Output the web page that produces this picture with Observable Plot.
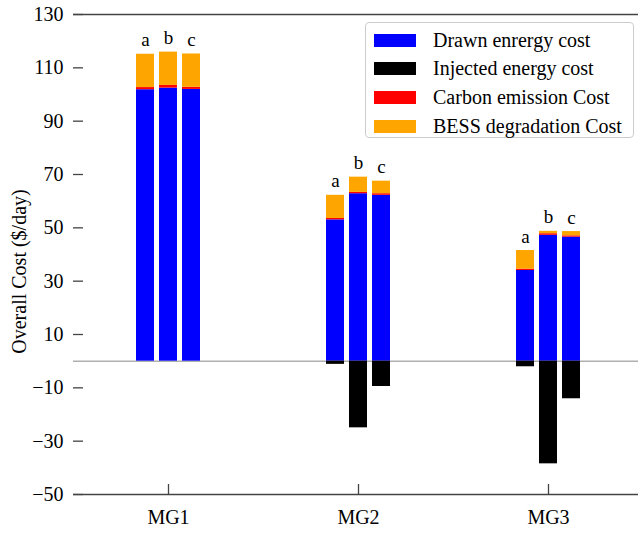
<!DOCTYPE html>
<html>
<head>
<meta charset="utf-8">
<script src="https://cdn.jsdelivr.net/npm/d3@7"></script>
<script src="https://cdn.jsdelivr.net/npm/@observablehq/plot@0.6"></script>
<style>
  html, body { margin: 0; padding: 0; background: white; overflow: hidden; }
  #wrap { position: relative; width: 638px; height: 534px; font-family: "Liberation Serif", "Times New Roman", serif; }
  #wrap svg [aria-label="y-axis tick label"], #wrap svg [aria-label="y-axis tick label"] text { font-size: 20px !important; font-family: "Liberation Serif", serif !important; }
  #wrap svg [aria-label="fx-axis tick label"], #wrap svg [aria-label="fx-axis tick label"] text { font-size: 20px !important; font-family: "Liberation Serif", serif !important; }
  #legend { position: absolute; left: 365px; top: 22px; width: 269px; height: 116px; border: 1.3px solid #ccc; border-radius: 4px; background: rgba(255,255,255,0.9); box-sizing: border-box; }
  .row { position: absolute; left: 0; height: 20px; display: flex; align-items: center; font-size: 20px; color: #000; white-space: nowrap; }
  .sw { width: 42px; height: 13px; margin-left: 8px; margin-right: 17px; }
</style>
</head>
<body>
<div id="wrap"></div>
<script>
const groups = ["MG1", "MG2", "MG3"];
const scenarios = ["a", "b", "c"];
const series = ["Drawn enrergy cost", "Injected energy cost", "Carbon emission Cost", "BESS degradation Cost"];
const colors = ["#0000ff", "#000000", "#ff0000", "#ffa500"];
// values ordered MG1 a,b,c, MG2 a,b,c, MG3 a,b,c
const drawn    = [101.8, 102.4, 101.9, 53.0, 62.8, 62.2, 34.0, 47.2, 46.5];
const injected = [0, 0, 0, -1.2, -25.0, -9.5, -2.1, -38.5, -14.1];
const carbon   = [0.8, 1.0, 0.8, 0.5, 0.5, 0.6, 0.5, 0.6, 0.5];
const bess     = [12.5, 12.5, 12.5, 8.7, 5.7, 4.7, 7.0, 0.9, 1.6];
const yTicks = [-50, -30, -10, 10, 30, 50, 70, 90, 110, 130];
const yLabel = "Overall Cost ($/day)";

const seriesValues = [drawn, injected, carbon, bess];
const rows = [];
const totals = [];
groups.forEach((g, gi) => {
  scenarios.forEach((s, si) => {
    const i = gi * scenarios.length + si;
    let pos = 0;
    series.forEach((name, k) => {
      const v = seriesValues[k][i];
      rows.push({group: g, scenario: s, series: name, value: v});
      if (v > 0) pos += v;
    });
    totals.push({group: g, scenario: s, total: pos});
  });
});

const fmt = d => d < 0 ? "\u2212" + Math.abs(d) : String(d);

const chart = Plot.plot({
  width: 638,
  height: 534,
  marginLeft: 73,
  marginRight: -5,
  marginTop: 14,
  marginBottom: 40,
  style: {fontFamily: "Liberation Serif, Times New Roman, serif", fontSize: "20px", color: "#000", background: "white", overflow: "visible"},
  fx: {domain: groups, padding: 0, label: null},
  x: {domain: scenarios, paddingInner: 0.2, paddingOuter: 2.61, axis: null},
  y: {domain: [-50, 130]},
  color: {domain: series, range: colors},
  marks: [
    Plot.ruleY([0], {stroke: "#888", strokeWidth: 1}),
    Plot.barY(rows, {fx: "group", x: "scenario", y: "value", fill: "series"}),
    Plot.text(totals, {fx: "group", x: "scenario", y: "total", text: "scenario", dy: -8, lineAnchor: "bottom", fontSize: 19}),
    Plot.ruleY([yTicks[0], yTicks[yTicks.length - 1]], {stroke: "#444", strokeWidth: 1.3}),
    Plot.axisY({ticks: yTicks, tickSize: 0, tickPadding: 10, line: true, label: null, tickFormat: fmt, stroke: "#444", strokeWidth: 1.3, fontSize: 20}),
    Plot.tickY(yTicks, {y: d => d, fx: () => groups[0], insetRight: 180, stroke: "#444", strokeWidth: 1.3}),
    Plot.tickX(groups, {fx: d => d, x: () => scenarios[1], insetTop: 470, stroke: "#444", strokeWidth: 1.3}),
    Plot.axisFx({anchor: "bottom", tickSize: 0, tickPadding: 15, label: null, fontSize: 20}),
    Plot.text([yLabel], {fx: () => groups[0], frameAnchor: "left", textAnchor: "middle", text: d => d, rotate: -90, dx: -54, dy: 17, fontSize: 20})
  ]
});

const wrap = document.getElementById("wrap");
wrap.appendChild(chart);

const legend = document.createElement("div");
legend.id = "legend";
series.forEach((name, k) => {
  const row = document.createElement("div");
  row.className = "row";
  row.style.top = (7 + k * 28.7) + "px";
  const sw = document.createElement("div");
  sw.className = "sw";
  sw.style.background = colors[k];
  const t = document.createElement("span");
  t.textContent = name;
  row.appendChild(sw);
  row.appendChild(t);
  legend.appendChild(row);
});
wrap.appendChild(legend);
</script>
</body>
</html>
